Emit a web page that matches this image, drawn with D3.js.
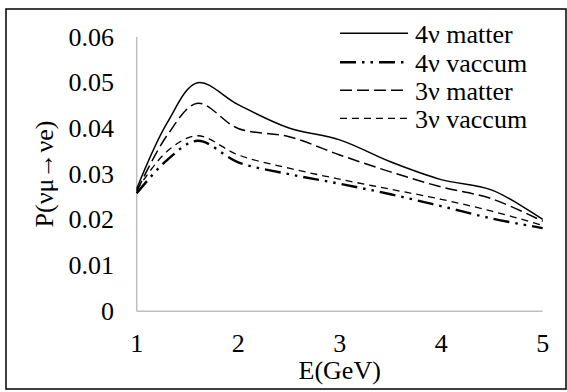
<!DOCTYPE html>
<html>
<head>
<meta charset="utf-8">
<script src="https://cdn.jsdelivr.net/npm/d3@7"></script>
<style>
    body { margin: 0; background: #fff; }
    svg text { font-family: 'Liberation Serif', 'Times New Roman', Tinos, 'DejaVu Serif', serif; fill: #000; }
</style>
</head>
<body>
<svg id="chart" width="567" height="392"></svg>
<script>
// data
const energy = [1, 1.3, 1.6, 2, 2.5, 3, 3.5, 4, 4.5, 5];
const matter4 = [0.0268, 0.0412, 0.0500, 0.0452, 0.0401, 0.0375, 0.0327, 0.0288, 0.0265, 0.0201];
const vacuum4 = [0.0258, 0.0331, 0.0373, 0.0326, 0.0300, 0.0279, 0.0256, 0.0230, 0.0203, 0.0182];
const matter3 = [0.0262, 0.0385, 0.0455, 0.0400, 0.0382, 0.0342, 0.0305, 0.0272, 0.0246, 0.0197];
const vacuum3 = [0.0265, 0.0350, 0.0384, 0.0342, 0.0313, 0.0289, 0.0267, 0.0245, 0.0219, 0.0188];

const seriesNames = ["4ν matter", "4ν vaccum", "3ν matter", "3ν vaccum"];
const xTicks = [1, 2, 3, 4, 5];
const yTicks = [0, 0.01, 0.02, 0.03, 0.04, 0.05, 0.06];

const FONT = "Liberation Serif";

const styles = [
    { width: 1.5, dash: null },
    { width: 2.4, dash: "16,6,2.5,6,2.5,6" },
    { width: 1.5, dash: "12,5" },
    { width: 1.3, dash: "7,5" }
];

const svg = d3.select("#chart");

// outer frame
svg.append("rect")
    .attr("x", 6).attr("y", 9)
    .attr("width", 560).attr("height", 380)
    .attr("fill", "none").attr("stroke", "#000").attr("stroke-width", 1.5);

const x = d3.scaleLinear().domain([1, 5]).range([136.7, 542.7]);
const y = d3.scaleLinear().domain([0, 0.06]).range([311.3, 37]);

// axis lines (gray, no ticks)
svg.append("line")
    .attr("x1", x(1)).attr("x2", x(1)).attr("y1", y(0.06)).attr("y2", y(0))
    .attr("stroke", "#bfbfbf").attr("stroke-width", 1.5);
svg.append("line")
    .attr("x1", x(1)).attr("x2", x(5)).attr("y1", y(0)).attr("y2", y(0))
    .attr("stroke", "#bfbfbf").attr("stroke-width", 1.5);

svg.selectAll(".ytick").data(yTicks).enter().append("text")
    .attr("class", "ytick")
    .attr("x", 114)
    .attr("y", d => y(d))
    .attr("dy", "0.33em")
    .attr("text-anchor", "end")
    .attr("font-family", FONT)
    .attr("font-size", 26)
    .text(d => d === 0 ? "0" : d.toFixed(2));

svg.selectAll(".xtick").data(xTicks).enter().append("text")
    .attr("class", "xtick")
    .attr("x", d => x(d))
    .attr("y", 352)
    .attr("text-anchor", "middle")
    .attr("font-family", FONT)
    .attr("font-size", 26)
    .text(d => d);

svg.append("text")
    .attr("x", 339.7).attr("y", 379)
    .attr("text-anchor", "middle")
    .attr("font-family", FONT)
    .attr("font-size", 26)
    .text("E(GeV)");

svg.append("text")
    .attr("transform", "translate(53,174) rotate(-90)")
    .attr("text-anchor", "middle")
    .attr("font-family", FONT)
    .attr("font-size", 26)
    .text("P(νμ→νe)");

const allSeries = [matter4, vacuum4, matter3, vacuum3];

const line = d3.line()
    .x(d => x(d[0]))
    .y(d => y(d[1]))
    .curve(d3.curveCatmullRom.alpha(0.5));

allSeries.forEach((vals, i) => {
    svg.append("path")
        .datum(energy.map((e, j) => [e, vals[j]]))
        .attr("d", line)
        .attr("fill", "none")
        .attr("stroke", "#000")
        .attr("stroke-width", styles[i].width)
        .attr("stroke-dasharray", styles[i].dash);
});

// legend
const legendY = [33.3, 62.3, 90.3, 118.3];
seriesNames.forEach((name, i) => {
    svg.append("line")
        .attr("x1", 340).attr("x2", 408)
        .attr("y1", legendY[i]).attr("y2", legendY[i])
        .attr("stroke", "#000")
        .attr("stroke-width", styles[i].width)
        .attr("stroke-dasharray", styles[i].dash);
    svg.append("text")
        .attr("x", 415)
        .attr("y", legendY[i] + 10)
        .attr("font-family", FONT)
        .attr("font-size", 26)
        .text(name);
});
</script>
</body>
</html>
